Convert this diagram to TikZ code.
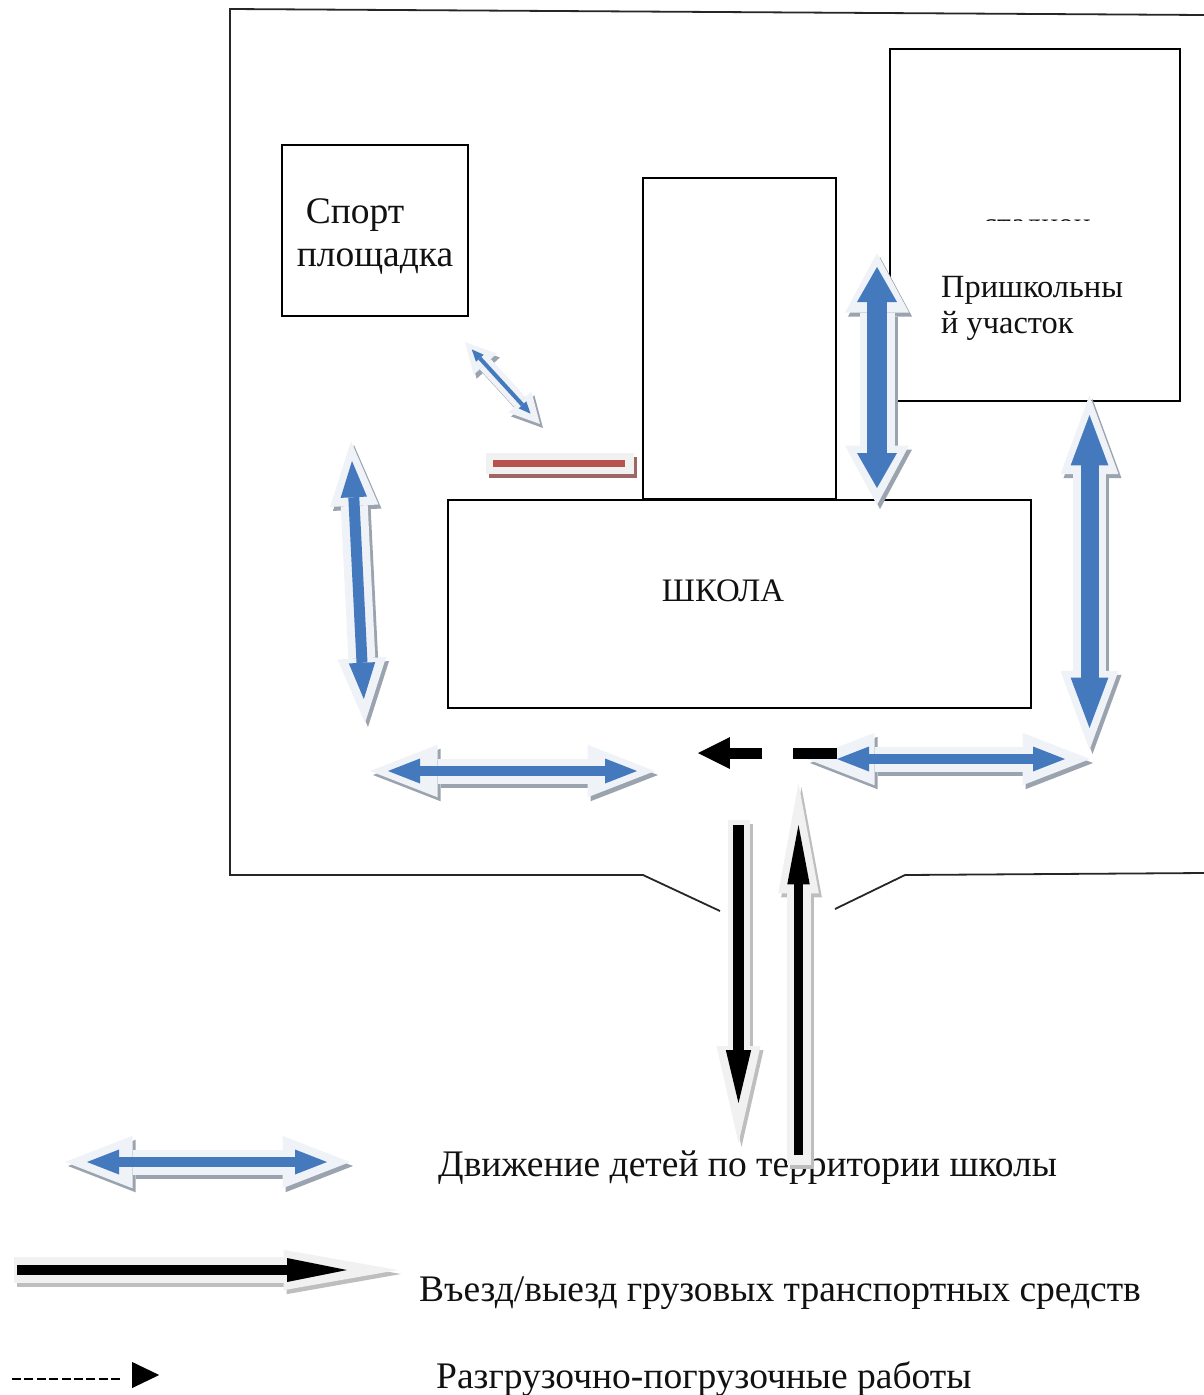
\documentclass[tikz,border=0pt]{standalone}
\usepackage{fontspec}
\setmainfont{Liberation Serif}
\usetikzlibrary{arrows.meta,calc,shapes.geometric}
\definecolor{wayblue}{HTML}{4579BD}
\definecolor{wayhalocol}{HTML}{EFF3F8}
\definecolor{wayshadowcol}{HTML}{9BA3AF}
\definecolor{truckhalocol}{HTML}{F1F1F1}
\definecolor{truckshadowcol}{HTML}{BEBEBE}
\definecolor{barred}{HTML}{B8524E}
\definecolor{inkcol}{HTML}{111111}
\tikzset{
  twotips/.style 2 args={arrows={{Triangle[length=0pt #1,width=0pt #2,line width=0pt]}-{Triangle[length=0pt #1,width=0pt #2,line width=0pt]}}},
  onetip/.style 2 args={arrows={-{Triangle[length=0pt #1,width=0pt #2,line width=0pt]}}},
  wayshadow/.style={draw=wayshadowcol},
  wayhalo/.style={draw=wayhalocol},
  waycore/.style={draw=wayblue},
  truckcore/.style={draw=black},
  truckhalo/.style={draw=truckhalocol},
  % blue sizes
  bigcore/.style={waycore,line width=20pt,twotips={1.75}{2},shorten <=14pt,shorten >=17pt},
  bighalo/.style={line width=35pt,twotips={1.7}{1.83}},
  rightcore/.style={waycore,line width=18pt,twotips={2.8}{2.1},shorten <=20pt,shorten >=22pt},
  righthalo/.style={line width=33pt,twotips={2.4}{1.76}},
  leftcore/.style={waycore,line width=11pt,twotips={3.3}{2.4},shorten <=20pt,shorten >=24pt},
  lefthalo/.style={line width=27pt,twotips={2.4}{1.8}},
  flatcore/.style={waycore,line width=10pt,twotips={3.2}{2.5},shorten <=18pt,shorten >=18pt},
  flathalo/.style={line width=25pt,twotips={2.7}{2.1}},
  tinycore/.style={waycore,line width=4pt,twotips={3}{2.6},shorten <=10pt,shorten >=14pt},
  tinyhalo/.style={line width=15pt,twotips={2}{2.1}},
  % black sizes
  downcore/.style={truckcore,line width=11pt,onetip={4.8}{2.3},shorten <=5pt,shorten >=40pt},
  downhalo/.style={truckhalo,line width=22pt,onetip={4.4}{2}},
  upcore/.style={truckcore,line width=9pt,onetip={6.6}{2.5},shorten <=10pt,shorten >=42pt},
  uphalo/.style={truckhalo,line width=24pt,onetip={4.6}{1.7}},
  flatblackcore/.style={truckcore,line width=10pt,onetip={6}{2.4},shorten <=3pt,shorten >=51pt},
  flatblackhalo/.style={truckhalo,line width=26pt,onetip={4.4}{1.55}},
  % the rest
  boxed/.style={draw=black,line width=1.6pt,fill=white,inner sep=0pt},
  boundary/.style={draw=black!85,line width=1.8pt},
  bigtext/.style={text=inkcol,inner sep=0pt},
  loadline/.style={draw=black,line width=11pt,dash pattern=on 44pt off 31pt,onetip={2.9}{2.9}},
  keydash/.style={draw=black,line width=1.4pt,dash pattern=on 9pt off 3.4pt},
}
\newcommand{\way}[5][]{%
  \draw[wayshadow,#5,#1] ($(#2)+(3,4)$) -- ($(#3)+(3,4)$);
  \draw[wayhalo,#5] (#2) -- (#3);
  \draw[#4] (#2) -- (#3);
}
\begin{document}
\begin{tikzpicture}[x=1pt,y=-1pt]
  \useasboundingbox (0,0) rectangle (1204,1395);

  % site boundary
  \coordinate (topright) at (1204,15);
  \coordinate (topleft) at (230,9);
  \coordinate (bottomleft) at (230,875);
  \coordinate (gateleftbend) at (643,875);
  \coordinate (gateleft) at (720,911);
  \coordinate (gateright) at (835,909);
  \coordinate (gaterightbend) at (905,875);
  \coordinate (bottomright) at (1204,873);
  \draw[boundary] (topright) -- (topleft) -- (bottomleft) -- (gateleftbend) -- (gateleft);
  \draw[boundary] (gateright) -- (gaterightbend) -- (bottomright);

  % buildings
  \node (sportbox) [boxed,minimum width=186pt,minimum height=171pt] at (375,230.5) {};
  \node (towerbox) [boxed,minimum width=193pt,minimum height=321pt] at (739.5,338.5) {};
  \node (plotbox) [boxed,minimum width=290pt,minimum height=352pt] at (1035,225) {};
  \node (schoolbox) [boxed,minimum width=583pt,minimum height=208pt] at (739.5,604) {};

  \node (sporttext) [bigtext,font=\fontsize{37.5}{40}\selectfont] at (355,215) {Спорт};
  \node (groundtext) [bigtext,font=\fontsize{37.5}{40}\selectfont] at (375,262) {площадка};
  \node (schooltext) [bigtext,font=\fontsize{32.8}{36}\selectfont] at (723,591) {ШКОЛА};
  \node (plottext) [bigtext,font=\fontsize{32.4}{36}\selectfont,anchor=base west] at (941,297) {Пришкольны};
  \node (plottextb) [bigtext,font=\fontsize{32.4}{36}\selectfont,anchor=base west] at (941,333) {й участок};
  \begin{scope}
    \clip (960,200) rectangle (1110,220);
    \node (stadiumtext) [bigtext,font=\fontsize{31.5}{36}\selectfont,anchor=base] at (1037,234) {стадион};
  \end{scope}

  % legend texts
  \node (keywalk) [bigtext,font=\fontsize{37.5}{40}\selectfont,anchor=west] at (438,1168) {Движение детей по территории школы};
  \node (keytruck) [bigtext,font=\fontsize{37.5}{40}\selectfont,anchor=west] at (419,1293) {Въезд/выезд грузовых транспортных средств};
  \node (keyload) [bigtext,font=\fontsize{37.5}{40}\selectfont,anchor=west] at (436,1379) {Разгрузочно-погрузочные работы};

  % red bar
  \coordinate (barleft) at (486,463.5);
  \coordinate (barright) at (634,463.5);
  \draw[draw=barred!55!gray,line width=21pt] ($(barleft)+(3,4)$) -- ($(barright)+(3,4)$);
  \draw[truckhalo,line width=21pt] (barleft) -- (barright);
  \draw[draw=barred,line width=7pt,shorten <=7pt,shorten >=9pt] (barleft) -- (barright);

  % walking routes
  \coordinate (midtop) at (877,253);
  \coordinate (midbottom) at (877,505);
  \way{midtop}{midbottom}{bigcore}{bighalo}
  \coordinate (righttop) at (1089.5,395);
  \coordinate (rightbottom) at (1089.5,750);
  \way{righttop}{rightbottom}{rightcore}{righthalo}
  \coordinate (lefttop) at (351,441);
  \coordinate (leftbottom) at (365,723);
  \way{lefttop}{leftbottom}{leftcore}{lefthalo}
  \coordinate (flatleftstart) at (370,771);
  \coordinate (flatleftend) at (655,771);
  \way{flatleftstart}{flatleftend}{flatcore}{flathalo}
  \coordinate (flatrightstart) at (807,759);
  \coordinate (flatrightend) at (1090,759);
  \way{flatrightstart}{flatrightend}{{flatcore,shorten <=30pt,shorten >=25pt}}{flathalo}
  \coordinate (tinytop) at (465,342);
  \coordinate (tinybottom) at (540,424);
  \way{tinytop}{tinybottom}{tinycore}{tinyhalo}

  % trucks
  \coordinate (trucksin) at (738.5,820);
  \coordinate (trucksinend) at (738.5,1143);
  \way[draw=truckshadowcol]{trucksin}{trucksinend}{downcore}{downhalo}
  \coordinate (trucksout) at (798.5,1165);
  \coordinate (trucksoutend) at (798.5,783);
  \way[draw=truckshadowcol]{trucksout}{trucksoutend}{upcore}{uphalo}

  % loading
  \coordinate (loadstart) at (837,753);
  \coordinate (loadend) at (698,753);
  \draw[loadline] (loadstart) -- (loadend);

  % legend marks
  \coordinate (keywalkleft) at (65,1162);
  \coordinate (keywalkright) at (350,1162);
  \way{keywalkleft}{keywalkright}{{flatcore,shorten <=22pt,shorten >=23pt}}{flathalo}
  \coordinate (keytruckleft) at (14,1270);
  \coordinate (keytruckright) at (398,1270);
  \way[draw=truckshadowcol]{keytruckleft}{keytruckright}{flatblackcore}{flatblackhalo}
  \coordinate (keydashleft) at (12,1379);
  \node (keytip) [fill=black,inner sep=0pt,isosceles triangle,isosceles triangle stretches,minimum width=26pt,minimum height=27pt,anchor=west] at (132,1375) {};
  \draw[keydash,shorten >=10pt] (keydashleft) -- (keydashleft -| keytip.west);
\end{tikzpicture}
\end{document}
